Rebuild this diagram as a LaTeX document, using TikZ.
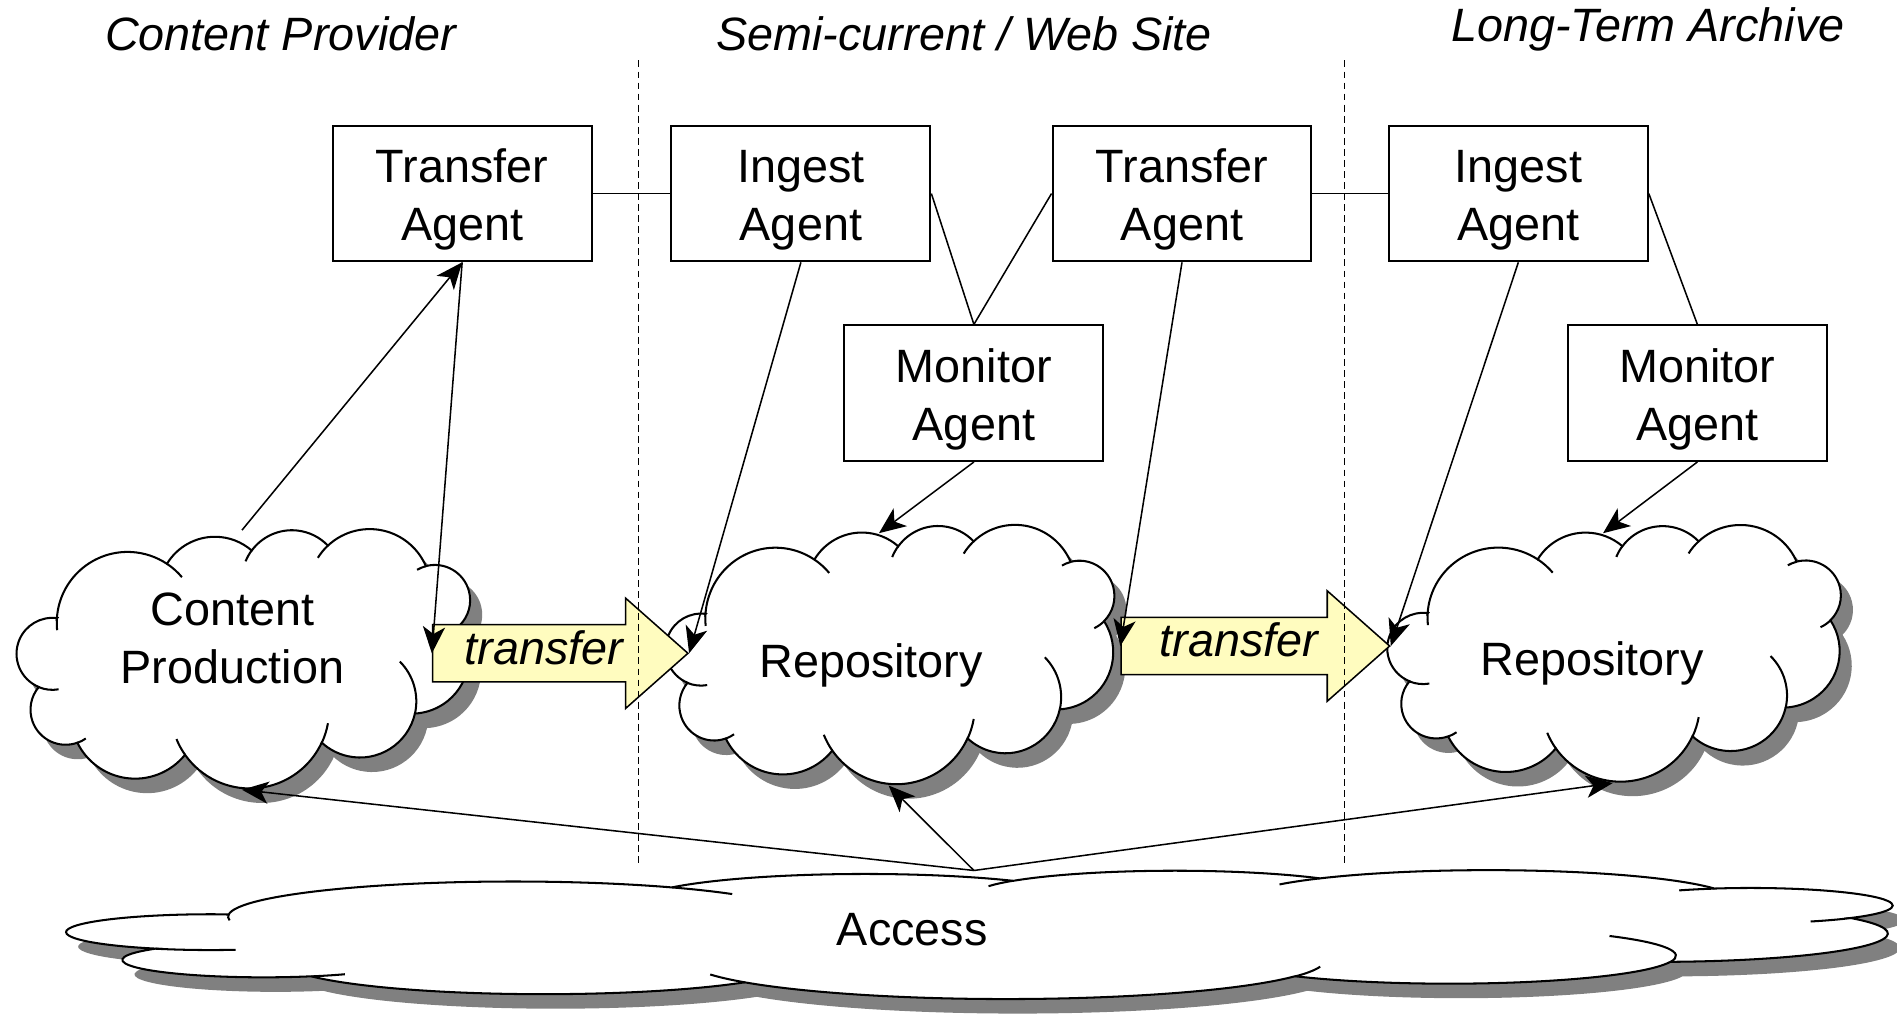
\documentclass[tikz,border=0pt]{standalone}
\usepackage{fontspec}
\setmainfont{Liberation Sans}
\usetikzlibrary{shapes.geometric,shapes.arrows,arrows.meta}

% Cloud outline and inner puff ends, round (0,0), one unit per pixel.
\newcommand{\cloudoutline}{(-153,34.5) arc[start angle=176.3,end angle=56.3,radius=58.6]
  arc[start angle=148.9,end angle=48.9,radius=46.3]
  arc[start angle=143.7,end angle=43.7,radius=41.2]
  arc[start angle=133.2,end angle=23.2,radius=50.5]
  arc[start angle=104.7,end angle=-45.3,radius=29.2]
  arc[start angle=33.1,end angle=-86.9,radius=47.2]
  arc[start angle=-12.7,end angle=-132.7,radius=46.6]
  arc[start angle=-24.9,end angle=-144.9,radius=65.5]
  arc[start angle=-38.9,end angle=-153.9,radius=53.1]
  arc[start angle=-70.3,end angle=-220.3,radius=29]
  arc[start angle=-112.3,end angle=-277.3,radius=29.7] -- cycle}
\newcommand{\cloudtails}{(-153,34.5) arc[start angle=176.3,end angle=186,radius=58.6]
  (-62,79.5) arc[start angle=56.3,end angle=40,radius=58.6]
  (8,90.5) arc[start angle=143.7,end angle=158,radius=41.2]
  (71,94.5) arc[start angle=133.2,end angle=148,radius=50.5]
  (152,77.5) arc[start angle=104.7,end angle=120,radius=29.2]
  (180,28.5) arc[start angle=-45.3,end angle=-65,radius=29.2]
  (143,-44.5) arc[start angle=-12.7,end angle=45,radius=46.6]
  (66,-68.5) arc[start angle=-24.9,end angle=-10,radius=65.5]
  (-47,-78.5) arc[start angle=-144.9,end angle=-158,radius=65.5]
  (-136,-68.5) arc[start angle=-70.3,end angle=-55,radius=29]
  (-168,-22.5) arc[start angle=-112.3,end angle=-80,radius=29.7]}
% #1,#2 centre, #3,#4 stretch
\newcommand{\puffcloud}[4]{%
  \fill[black!50,shift={(#1+0.25,#2-0.3)},xscale=0.025*#3,yscale=0.025*#4] \cloudoutline;
  \draw[fill=white,line width=1.2pt,shift={(#1,#2)},xscale=0.025*#3,yscale=0.025*#4] \cloudoutline;
  \draw[line width=1.2pt,shift={(#1,#2)},xscale=0.025*#3,yscale=0.025*#4] \cloudtails;}

\begin{document}
\begin{tikzpicture}[
     agent/.style={rectangle,draw,line width=1.2pt,minimum width=5.35cm,minimum height=2.8cm,align=center,
       font=\fontsize{27.5}{34}\selectfont,text height=2.15cm},
     spot/.style={ellipse,inner sep=0pt},
     word/.style={align=center,font=\fontsize{27.5}{34}\selectfont},
     xfer/.style={single arrow,draw,fill=yellow!25,line width=0.9pt,anchor=tail,
       single arrow tip angle=83,single arrow head extend=0.55cm,
       inner ysep=0.15cm,text height=0.65cm,text depth=0.2cm,font=\fontsize{27.5}{34}\selectfont\itshape},
     zone/.style={font=\fontsize{27.5}{34}\selectfont\itshape},
     link/.style={line width=0.9pt},
     flow/.style={link,-{Stealth[length=0.55cm,width=0.46cm,inset=0.15cm]}}
   ]
   \path[use as bounding box] (0,0) rectangle (39.2,20.95);
   % Zones.
   \node[zone] (provider) at (5.8,20.25) {Content Provider};
   \node[zone] (website) at (19.925,20.25) {Semi-current / Web Site};
   \node[zone] (archive) at (34.05,20.35) {Long-Term Archive};
   % Clouds.
   \puffcloud{20.125}{1.625}{4.027}{0.497}
   \puffcloud{5.0}{7.3125}{1}{1}
   \puffcloud{18.3625}{7.4}{0.99}{1}
   \puffcloud{33.325}{7.425}{1}{0.99}
   \node[spot,minimum width=37.75cm,minimum height=2.66cm] (access) at (20.125,1.625) {};
   \node[spot,minimum width=9.375cm,minimum height=5.35cm] (prod) at (5.0,7.3125) {};
   \node[spot,minimum width=9.275cm,minimum height=5.35cm] (repo1) at (18.3625,7.4) {};
   \node[spot,minimum width=9.4cm,minimum height=5.3cm] (repo2) at (33.325,7.425) {};
   \node[word] (accesstext) at (18.85,1.75) {Access};
   \node[word] (prodtext) at (4.8,7.75) {Content\\Production};
   \node[word] (repo1text) at (18.0,7.2) {Repository};
   \node[word] (repo2text) at (32.9,7.25) {Repository};
   % Agents.
   \node[agent] (trans1) at (9.55,16.95) {Transfer\\Agent};
   \node[agent] (ingest1) at (16.55,16.95) {Ingest\\Agent};
   \node[agent] (trans2) at (24.425,16.95) {Transfer\\Agent};
   \node[agent] (ingest2) at (31.375,16.95) {Ingest\\Agent};
   \node[agent] (mon1) at (20.125,12.825) {Monitor\\Agent};
   \node[agent] (mon2) at (35.075,12.825) {Monitor\\Agent};
   % Transfers.
   \node[xfer,minimum height=5.275cm] (move1) at (8.925,7.45) {transfer};
   \node[xfer,minimum height=5.55cm] (move2) at (23.15,7.6) {transfer};
   % Links.
   \draw[link,line width=1.1pt] (trans1.east) -- (ingest1.west);
   \draw[link,line width=1.1pt] (trans2.east) -- (ingest2.west);
   \draw[link] (ingest1.east) -- (mon1.north);
   \draw[link] (trans2.west) -- (mon1.north);
   \draw[link] (ingest2.east) -- (mon2.north);
   \draw[flow] (prod.north) -- (trans1.south);
   \draw[flow] (trans1.south) -- (move1.tail);
   \draw[flow] (ingest1.south) -- (move1.tip);
   \draw[flow] (trans2.south) -- (move2.tail);
   \draw[flow] (ingest2.south) -- (move2.tip);
   \draw[flow,shorten >=-0.25cm] (mon1.south) -- (repo1.north);
   \draw[flow,shorten >=-0.25cm] (mon2.south) -- (repo2.north);
   \draw[flow] (access.north) -- (prod.south);
   \draw[flow] (access.north) -- (repo1.south);
   \draw[flow] (access.north) -- (repo2.south);
   % Borders.
   \draw[line width=0.7pt,dash pattern=on 4pt off 2.5pt] (13.2,19.7) -- (13.2,3.075);
   \draw[line width=0.7pt,dash pattern=on 4pt off 2.5pt] (27.775,19.7) -- (27.775,3.075);
 \end{tikzpicture}
\end{document}
